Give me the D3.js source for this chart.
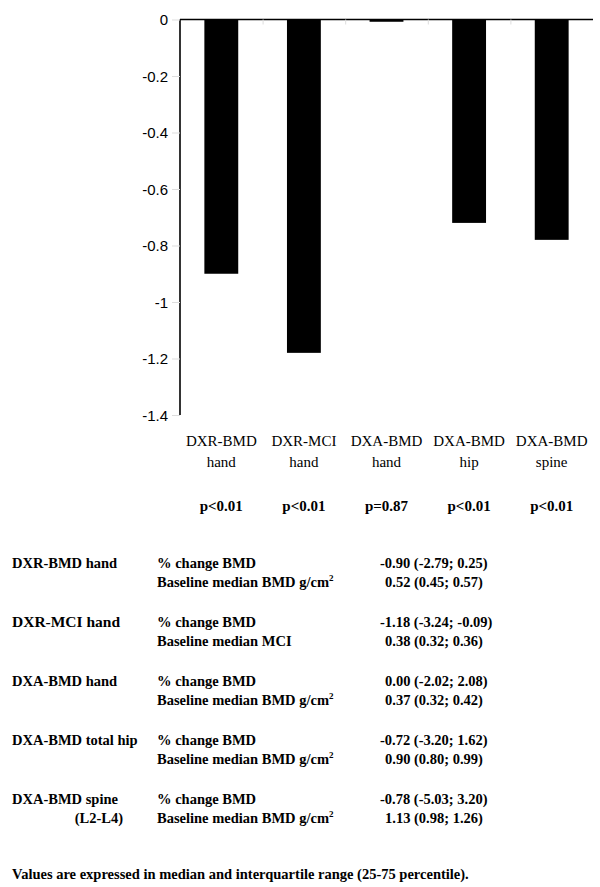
<!DOCTYPE html>
<html>
<head>
<meta charset="utf-8">
<script src="https://d3js.org/d3.v7.min.js"></script>
<style>
body { margin: 0; background: #fff; }
svg { display: block; }
</style>
</head>
<body>
<svg id="chart" width="600" height="887"></svg>
<script>
// ---- data ----
const categoriesLine1 = ["DXR-BMD", "DXR-MCI", "DXA-BMD", "DXA-BMD", "DXA-BMD"];
const categoriesLine2 = ["hand", "hand", "hand", "hip", "spine"];
const changeValues = [-0.90, -1.18, -0.008, -0.72, -0.78];
const pValues = ["p<0.01", "p<0.01", "p=0.87", "p<0.01", "p<0.01"];
const yTicks = [0, -0.2, -0.4, -0.6, -0.8, -1, -1.2, -1.4];
const yTickLabels = ["0", "-0.2", "-0.4", "-0.6", "-0.8", "-1", "-1.2", "-1.4"];

const tableGroups = ["DXR-BMD hand", "DXR-MCI hand", "DXA-BMD hand", "DXA-BMD total hip", "DXA-BMD spine"];
const tableGroupSub = ["", "", "", "", "(L2-L4)"];
const tableRow1Labels = ["% change BMD", "% change BMD", "% change BMD", "% change BMD", "% change BMD"];
const tableRow2Labels = ["Baseline median BMD g/cm", "Baseline median MCI", "Baseline median BMD g/cm", "Baseline median BMD g/cm", "Baseline median BMD g/cm"];
const tableRow2Sup = ["2", "", "2", "2", "2"];
const tableRow1Values = ["-0.90 (-2.79; 0.25)", "-1.18 (-3.24; -0.09)", "0.00 (-2.02; 2.08)", "-0.72 (-3.20; 1.62)", "-0.78 (-5.03; 3.20)"];
const tableRow2Values = ["0.52 (0.45; 0.57)", "0.38 (0.32; 0.36)", "0.37 (0.32; 0.42)", "0.90 (0.80; 0.99)", "1.13 (0.98; 1.26)"];
const footnote = "Values are expressed in median and interquartile range (25-75 percentile).";

// ---- layout ----
const svg = d3.select("#chart");
const plotLeft = 180, plotRight = 593, plotTop = 19.5, plotBottom = 415;
const serif = "'Liberation Serif', 'Times New Roman', serif";
const sans = "'Liberation Sans', Arial, sans-serif";

const x = d3.scaleBand().domain(d3.range(categoriesLine1.length)).range([plotLeft, plotRight]).paddingInner(0.59).paddingOuter(0.295);
const y = d3.scaleLinear().domain([-1.4, 0]).range([plotBottom, plotTop]);

// bars
svg.append("g").selectAll("rect").data(changeValues).join("rect")
  .attr("x", (d, i) => x(i))
  .attr("width", x.bandwidth())
  .attr("y", y(0))
  .attr("height", d => y(d) - y(0))
  .attr("fill", "#000");

// y axis
const yAxis = svg.append("g").attr("transform", `translate(${plotLeft},0)`)
  .call(d3.axisLeft(y).tickValues(yTicks).tickSize(8).tickPadding(4)
    .tickFormat((d, i) => yTickLabels[i]));
yAxis.select(".domain").attr("stroke", "#000").attr("stroke-width", 1.6).attr("d", `M0,${plotTop}V${plotBottom}`);
yAxis.selectAll(".tick line").attr("stroke", "#ddd").attr("stroke-width", 1);
yAxis.selectAll(".tick text").attr("font-family", sans).attr("font-size", 15).attr("fill", "#000").attr("dy", "0.35em");

// x axis at zero (top)
const boundaryScale = d3.scaleLinear().domain([0, categoriesLine1.length]).range([plotLeft, plotRight]);
const xAxis = svg.append("g").attr("transform", `translate(0,${y(0)})`)
  .call(d3.axisBottom(boundaryScale).tickValues(d3.range(1, categoriesLine1.length)).tickSize(5).tickFormat(""));
xAxis.select(".domain").attr("stroke", "#000").attr("stroke-width", 1.6).attr("d", `M${plotLeft},0H${plotRight}`);
xAxis.selectAll(".tick line").attr("stroke", "#ddd");

// category labels
const catG = svg.append("g").attr("font-family", serif).attr("font-size", 15).attr("text-anchor", "middle").attr("fill", "#000");
catG.selectAll("text.l1").data(categoriesLine1).join("text").attr("class", "l1")
  .attr("x", (d, i) => x(i) + x.bandwidth() / 2).attr("y", 446).text(d => d);
catG.selectAll("text.l2").data(categoriesLine2).join("text").attr("class", "l2")
  .attr("x", (d, i) => x(i) + x.bandwidth() / 2).attr("y", 467).text(d => d);
catG.selectAll("text.p").data(pValues).join("text").attr("class", "p")
  .attr("x", (d, i) => x(i) + x.bandwidth() / 2).attr("y", 511).attr("font-weight", "bold").text(d => d);

// table
const tbl = svg.append("g").attr("font-family", serif).attr("font-weight", "bold").attr("font-size", 14.5).attr("fill", "#000");
const rowY = i => 568 + i * 59;
tbl.selectAll("text.g").data(tableGroups).join("text").attr("class", "g")
  .attr("x", 12).attr("y", (d, i) => rowY(i))
  .attr("font-size", (d, i) => i === 1 ? 15.5 : 14.5)
  .text(d => d);
tbl.selectAll("text.gs").data(tableGroupSub).join("text").attr("class", "gs")
  .attr("x", 123).attr("text-anchor", "end").attr("y", (d, i) => rowY(i) + 19).text(d => d);
tbl.selectAll("text.r1").data(tableRow1Labels).join("text").attr("class", "r1")
  .attr("x", 157).attr("y", (d, i) => rowY(i)).text(d => d);
const r2 = tbl.selectAll("text.r2").data(tableRow2Labels).join("text").attr("class", "r2")
  .attr("x", 157).attr("y", (d, i) => rowY(i) + 19);
r2.append("tspan").text(d => d);
r2.append("tspan").attr("font-size", 9).attr("dy", -6).text((d, i) => tableRow2Sup[i]);
tbl.selectAll("text.v1").data(tableRow1Values).join("text").attr("class", "v1")
  .attr("x", d => d.startsWith("-") ? 380 : 385).attr("y", (d, i) => rowY(i)).text(d => d);
tbl.selectAll("text.v2").data(tableRow2Values).join("text").attr("class", "v2")
  .attr("x", d => d.startsWith("-") ? 380 : 385).attr("y", (d, i) => rowY(i) + 19).text(d => d);

svg.append("text").attr("font-family", serif).attr("font-weight", "bold").attr("font-size", 14.5)
  .attr("x", 12).attr("y", 879).text(footnote);
</script>
</body>
</html>
